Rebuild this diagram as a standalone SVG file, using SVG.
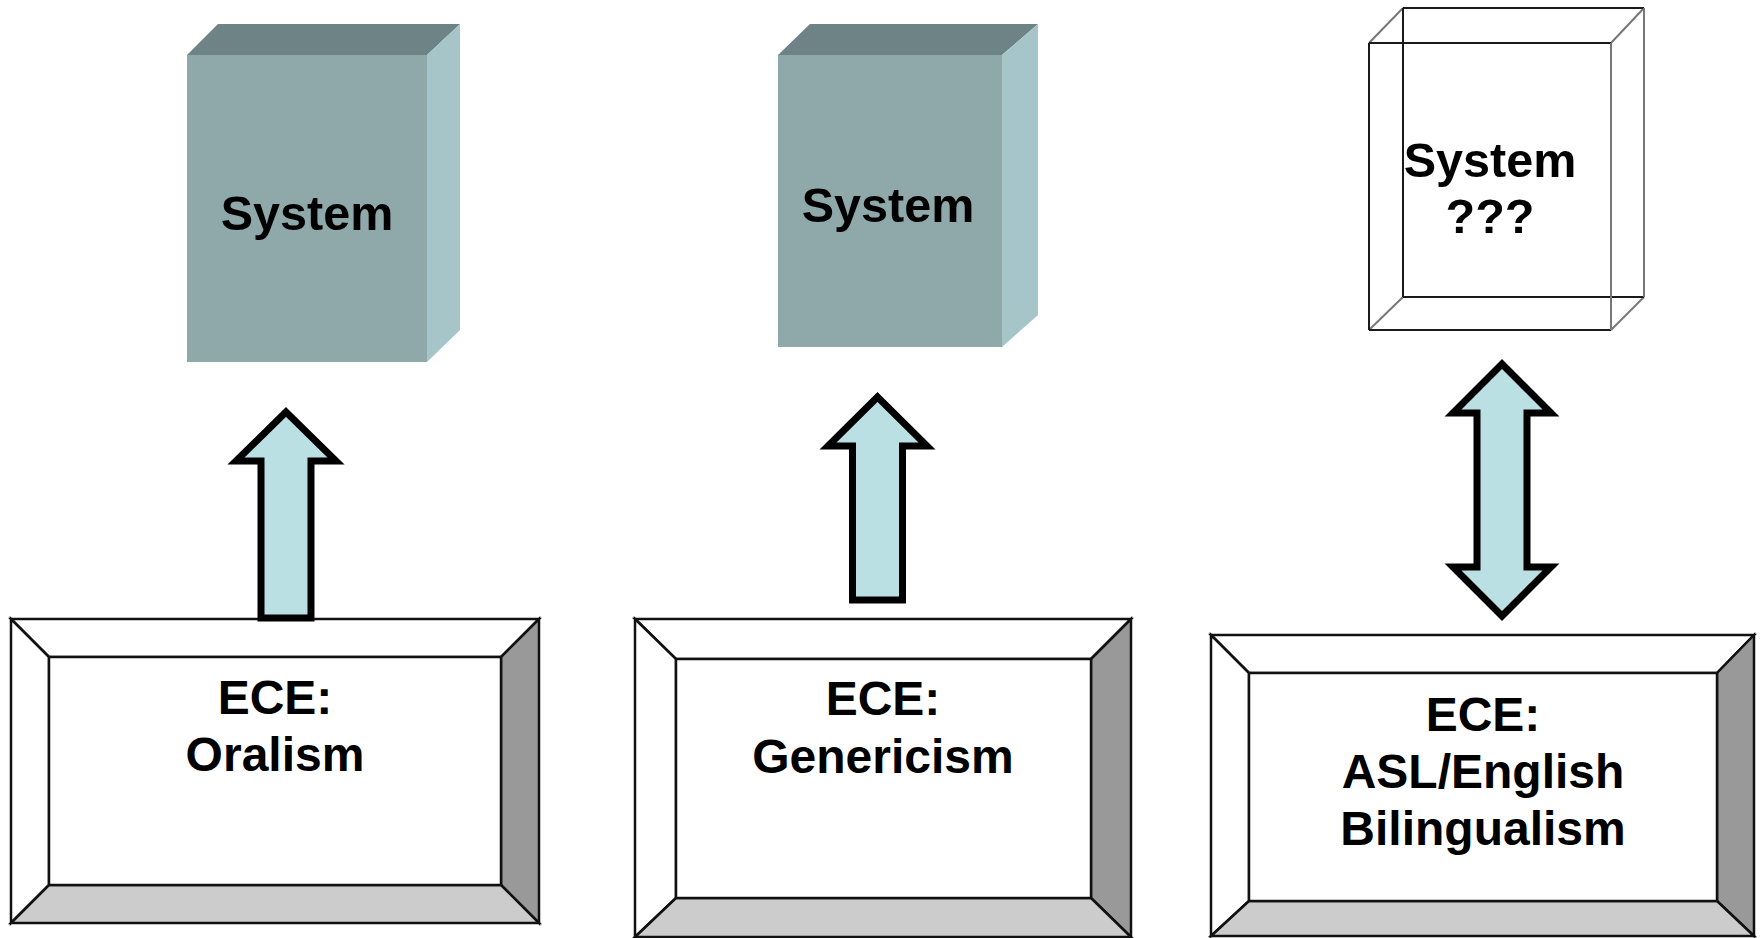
<svg xmlns="http://www.w3.org/2000/svg" width="1762" height="938" viewBox="0 0 1762 938">
<style>
.front{fill:#8FA9AB;}
.top{fill:#6E8385;}
.side{fill:#A6C5C8;}
.lbl{font-family:"Liberation Sans",Arial,sans-serif;font-weight:bold;fill:#000;text-anchor:middle;}
.big{font-size:48.5px;}
.mid{font-size:48px;}
.wire{fill:none;stroke:#1a1a1a;stroke-width:2;}
.wireg{fill:none;stroke:#777;stroke-width:2;}
.bev{stroke:#111;stroke-width:2.5;stroke-linejoin:miter;}
.w{fill:#fff;}
.dk{fill:#999;}
.lt{fill:#ccc;}
.arrow{fill:#BBE0E3;stroke:#000;stroke-width:7;stroke-linejoin:miter;stroke-miterlimit:10;}
</style>
<rect width="1762" height="938" fill="#fff"/>

<g id="system1">
<polygon class="top" points="187,55 218,24 460,24 427,55"/>
<polygon class="side" points="427,55 460,24 460,330 427,362"/>
<rect class="front" x="187" y="55" width="240" height="307"/>
<text class="lbl big" x="307" y="230">System</text>
</g>

<g id="system2">
<polygon class="top" points="778,55 810,24 1038,24 1002,55"/>
<polygon class="side" points="1002,55 1038,24 1038,315 1002,347"/>
<rect class="front" x="778" y="55" width="224" height="292"/>
<text class="lbl big" x="888" y="222">System</text>
</g>

<g id="system3">
<line class="wireg" x1="1369" y1="43" x2="1403" y2="8"/>
<line class="wireg" x1="1611" y1="43" x2="1644" y2="8"/>
<line class="wireg" x1="1369" y1="330" x2="1403" y2="297"/>
<line class="wireg" x1="1611" y1="330" x2="1644" y2="297"/>
<line class="wire" x1="1403" y1="8" x2="1644" y2="8"/>
<line class="wire" x1="1403" y1="8" x2="1403" y2="297"/>
<line class="wire" x1="1403" y1="297" x2="1644" y2="297"/>
<line class="wireg" x1="1644" y1="8" x2="1644" y2="297"/>
<line class="wire" x1="1369" y1="43" x2="1611" y2="43"/>
<line class="wire" x1="1369" y1="43" x2="1369" y2="330"/>
<line class="wire" x1="1369" y1="330" x2="1611" y2="330"/>
<line class="wireg" x1="1611" y1="43" x2="1611" y2="330"/>
<text class="lbl big" x="1490" y="177">System</text>
<text class="lbl big" x="1490" y="233">???</text>
</g>

<g id="ece1">
<polygon class="bev w" points="11,619 539,619 501,657 49,657"/>
<polygon class="bev w" points="11,619 49,657 49,885 11,923"/>
<polygon class="bev dk" points="539,619 539,923 501,885 501,657"/>
<polygon class="bev lt" points="11,923 49,885 501,885 539,923"/>
<rect class="bev w" x="49" y="657" width="452" height="228"/>
<text class="lbl mid" x="275" y="714">ECE:</text>
<text class="lbl mid" x="275" y="771">Oralism</text>
</g>

<g id="ece2">
<polygon class="bev w" points="635,619 1131,619 1091,659 676,659"/>
<polygon class="bev w" points="635,619 676,659 676,898 635,937"/>
<polygon class="bev dk" points="1131,619 1131,937 1091,898 1091,659"/>
<polygon class="bev lt" points="635,937 676,898 1091,898 1131,937"/>
<rect class="bev w" x="676" y="659" width="415" height="239"/>
<text class="lbl mid" x="883" y="715">ECE:</text>
<text class="lbl mid" x="883" y="773">Genericism</text>
</g>

<g id="ece3">
<polygon class="bev w" points="1211,635 1754,635 1717,673 1249,673"/>
<polygon class="bev w" points="1211,635 1249,673 1249,901 1211,936"/>
<polygon class="bev dk" points="1754,635 1754,936 1717,901 1717,673"/>
<polygon class="bev lt" points="1211,936 1249,901 1717,901 1754,936"/>
<rect class="bev w" x="1249" y="673" width="468" height="228"/>
<text class="lbl mid" x="1483" y="731">ECE:</text>
<text class="lbl mid" x="1483" y="788">ASL/English</text>
<text class="lbl mid" x="1483" y="845">Bilingualism</text>
</g>

<g id="connectors">
<path class="arrow" d="M286,412 L336,461 L311,461 L311,618 L261,618 L261,461 L236,461 Z"/>
<path class="arrow" d="M877.5,397 L927,446 L902.5,446 L902.5,600 L852.5,600 L852.5,446 L828,446 Z"/>
<path class="arrow" d="M1502,364 L1551,413 L1527,413 L1527,567 L1551,567 L1502,616 L1453,567 L1477,567 L1477,413 L1453,413 Z"/>
</g>
</svg>
